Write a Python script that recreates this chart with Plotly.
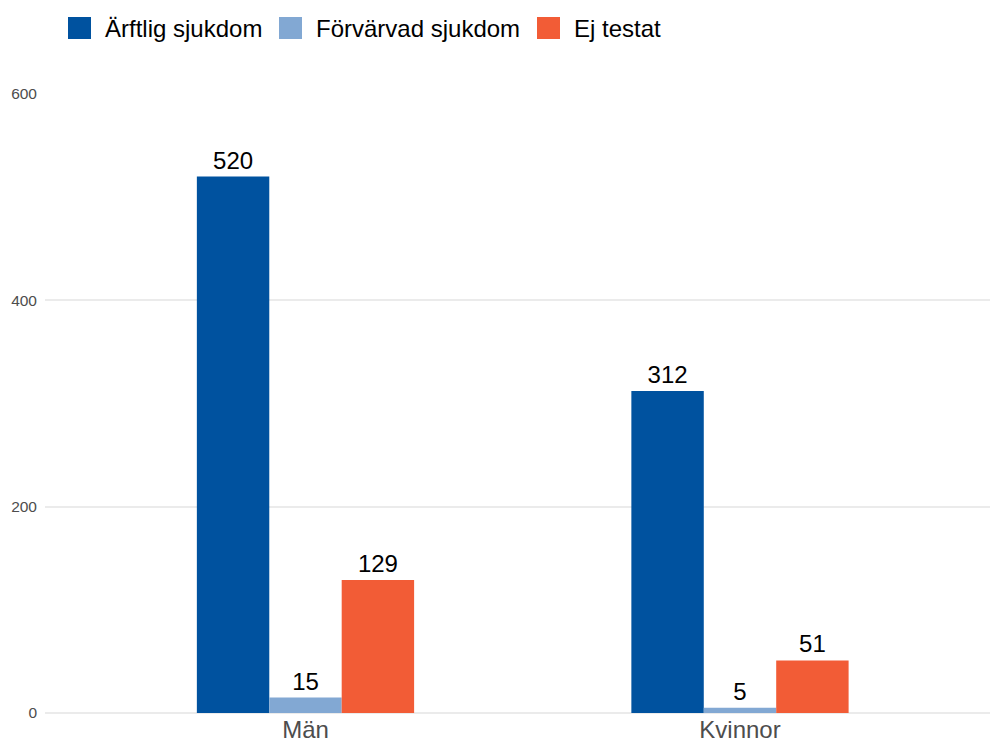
import plotly.graph_objects as go

# Categories and series values
groups = ["Män", "Kvinnor"]
series_names = ["Ärftlig sjukdom", "Förvärvad sjukdom", "Ej testat"]
arftlig = [520, 312]
forvarvad = [15, 5]
ej_testat = [129, 51]
y_ticks = [0, 200, 400, 600]

colors = ["#00529F", "#82A8D3", "#F25C36"]
values = [arftlig, forvarvad, ej_testat]

FONT = "Liberation Sans, Arial, Helvetica, sans-serif"

fig = go.Figure()
for name, vals, col in zip(series_names, values, colors):
    fig.add_trace(go.Bar(
        x=groups, y=vals, name=name,
        marker=dict(color=col, line=dict(width=0)),
        text=vals, texttemplate="%{y}", textposition="outside",
        textfont=dict(family=FONT, size=24, color="#000000"),
        cliponaxis=False, showlegend=False,
    ))

# Plot area geometry in pixels
W, H = 992, 740
L, R, T, B = 45, 2, 94, 27
pw, ph = W - L - R, H - T - B


def px_x(x):
    return (x - L) / pw


def px_y(y):
    return (H - B - y) / ph


# Legend drawn across the top: colour swatches plus labels
legend_x = [68, 279, 537]
shapes = []
annotations = []
for name, col, x0 in zip(series_names, colors, legend_x):
    shapes.append(dict(
        type="rect", xref="paper", yref="paper",
        x0=px_x(x0), x1=px_x(x0 + 23), y0=px_y(39), y1=px_y(17),
        fillcolor=col, line=dict(width=0), layer="above",
    ))
    annotations.append(dict(
        xref="paper", yref="paper", x=px_x(x0 + 35), y=px_y(28),
        xanchor="left", yanchor="middle", showarrow=False,
        text=name, font=dict(family=FONT, size=24, color="#000000"),
    ))

fig.update_layout(
    width=W, height=H,
    margin=dict(l=L, r=R, t=T, b=B, pad=0),
    paper_bgcolor="white", plot_bgcolor="white",
    barmode="group", bargap=0.5, bargroupgap=0,
    shapes=shapes, annotations=annotations,
    font=dict(family=FONT),
    xaxis=dict(
        range=[-0.5995, 1.5754], showgrid=False, zeroline=False,
        showline=False, ticks="", automargin=False,
        tickfont=dict(family=FONT, size=24, color="#4D4D4D"),
        ticklabelstandoff=0,
    ),
    yaxis=dict(
        range=[0, 600], tickvals=y_ticks, showgrid=True,
        gridcolor="#EBEBEB", gridwidth=1.6,
        zeroline=True, zerolinecolor="#EBEBEB", zerolinewidth=1.6,
        showline=False, ticks="", automargin=False,
        tickfont=dict(family=FONT, size=15.5, color="#4D4D4D"),
        ticklabelstandoff=7,
    ),
)

fig.write_html("out.html")
